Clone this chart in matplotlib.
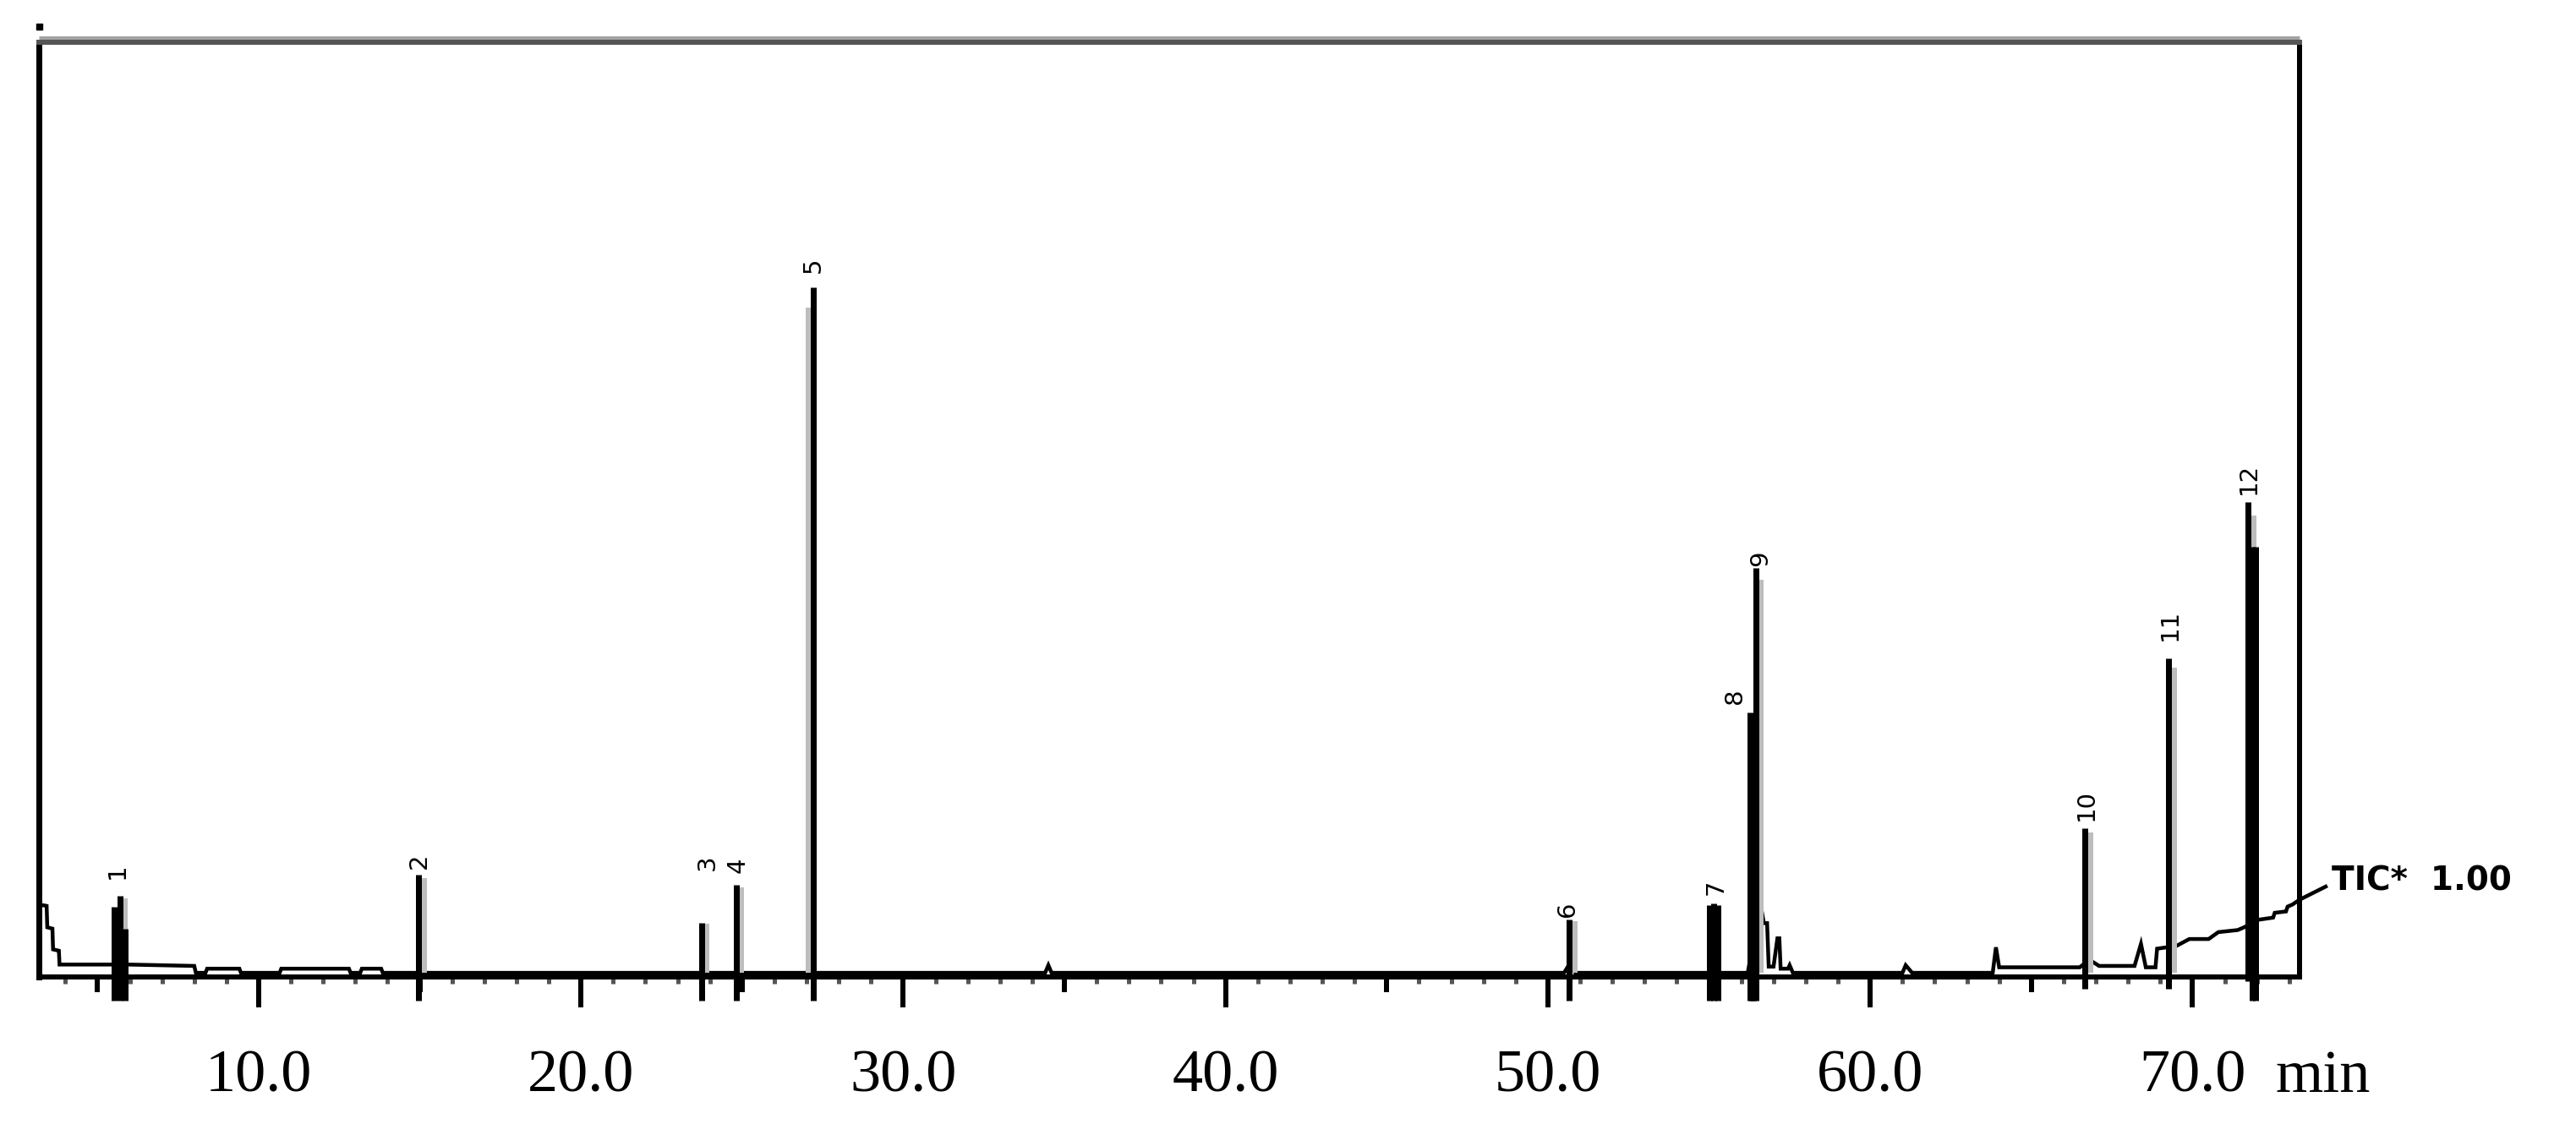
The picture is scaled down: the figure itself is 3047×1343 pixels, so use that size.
"""GC-MS total ion chromatogram (TIC) with numbered peaks."""

import matplotlib as mpl
import matplotlib.pyplot as plt
from matplotlib.ticker import FixedLocator, MultipleLocator

mpl.rcParams.update(
    {
        "font.family": "DejaVu Sans",
        "axes.linewidth": 4.3,
    }
)

# baseline trace: retention time (min) vs intensity (% of peak 5)
trace_rt = [3.18, 3.42, 3.44, 3.60, 3.62, 3.80, 3.82, 5.40, 5.95, 8.00, 8.05,
            8.35, 8.40, 9.40, 9.45, 10.65, 10.70, 12.80, 12.85, 13.15, 13.20,
            13.80, 13.85, 34.40, 34.50, 34.60, 50.50, 50.75, 50.85, 54.95,
            55.35, 56.20, 56.55, 56.62, 56.70, 56.80, 56.85, 57.00, 57.12,
            57.18, 57.22, 57.45, 57.50, 57.60, 61.00, 61.10, 61.30, 63.80,
            63.90, 64.00, 66.50, 66.80, 67.10, 68.20, 68.40, 68.55, 68.85,
            68.90, 69.20, 69.50, 69.90, 70.50, 70.80, 71.40, 71.60, 72.05,
            72.50, 72.55, 72.90, 72.95, 73.10, 73.32, 74.13]
trace_int = [10.5, 10.3, 7.2, 7.0, 4.0, 3.8, 1.8, 1.8, 1.8, 1.6, 0.6,
             0.6, 1.2, 1.2, 0.6, 0.6, 1.2, 1.2, 0.6, 0.6, 1.2,
             1.2, 0.6, 0.6, 1.7, 0.6, 0.6, 2.5, 0.6, 0.6,
             0.6, 0.6, 9.9, 9.9, 7.8, 7.8, 1.5, 1.5, 5.6,
             5.6, 1.2, 1.2, 1.7, 0.6, 0.6, 1.7, 0.6, 0.6,
             4.3, 1.4, 1.4, 2.5, 1.6, 1.6, 4.8, 1.4, 1.4,
             4.1, 4.3, 4.5, 5.5, 5.5, 6.5, 6.8, 7.2, 8.3,
             8.6, 9.3, 9.5, 10.2, 10.5, 11.2, 13.1]

# numbered peaks
peak_no = ["1", "2", "3", "4", "5", "6", "7", "8", "9", "10", "11", "12"]
peak_rt = [5.69, 14.97, 23.74, 24.81, 27.21, 50.66, 55.14, 56.27, 56.45,
           66.66, 69.26, 71.72]
peak_int = [11.8, 14.8, 7.9, 13.4, 100.0, 8.3, 10.6, 38.4, 59.3,
            21.6, 46.2, 68.9]
label_rt = [5.62, 14.97, 23.93, 24.85, 27.20, 50.60, 55.20, 55.80, 56.60,
            66.70, 69.30, 71.75]
label_int = [14.2, 15.7, 15.4, 15.1, 102.1, 8.7, 11.9, 39.6, 59.6,
             22.7, 48.7, 70.0]

# unnumbered co-eluting / shoulder peaks
shoulder_rt = [5.51, 5.86, 55.02, 55.28, 56.33, 56.38, 71.85, 71.95]
shoulder_int = [10.2, 7.0, 10.4, 10.4, 30.1, 30.1, 62.3, 62.3]

tick_pos = [10, 20, 30, 40, 50, 60, 70]
tick_lab = ["10.0", "20.0", "30.0", "40.0", "50.0", "60.0", "70.0"]

PX = 0.72  # points per pixel at dpi=100
Y_TOP = 135.5
PX_PER_UNIT = 1106 / Y_TOP
MIN_PER_PX = 1 / 38.12


def main():
    fig = plt.figure(figsize=(30.47, 13.43), dpi=100)
    ax = fig.add_axes([46 / 3047, 187 / 1343, 2674 / 3047, 1106 / 1343])

    ax.set_xlim(3.18, 73.32)
    ax.set_ylim(0, Y_TOP)

    for side in ("left", "right", "bottom"):
        ax.spines[side].set_color("black")
        ax.spines[side].set_linewidth(6 * PX)
    ax.spines["left"].set_linewidth(7 * PX)
    ax.spines["top"].set_color("#555555")
    ax.spines["top"].set_linewidth(6 * PX)
    ax.plot([0, 1], [1 + 5.5 / 1106] * 2, transform=ax.transAxes,
            color="#a3a3a3", lw=5 * PX, clip_on=False, solid_capstyle="butt")
    ax.plot([0], [1 + 19 / 1106], "s", transform=ax.transAxes, color="black",
            ms=7 * PX, clip_on=False)

    # trace
    ax.plot(trace_rt, trace_int, color="black", lw=4.5 * PX, clip_on=False,
            solid_joinstyle="miter")

    # soft grey edge beside each numbered peak (scan smear in the original)
    sides = [1, 1, 1, 1, -1, 1, 1, 1, 1, 1, 1, 1]
    for rt, h, s in zip(peak_rt, peak_int, sides):
        ax.vlines(rt + s * 6.5 * MIN_PER_PX, 0.6, h * 0.97, color="#bdbdbd",
                  lw=6 * PX)

    tails = [-28, -28, -28, -28, -28, -28, -28, -28, -28, -14, -14, -5]
    for rt, h, t in zip(peak_rt, peak_int, tails):
        ax.vlines(rt, t / PX_PER_UNIT, h, color="black", lw=7 * PX,
                  clip_on=False)
    ax.vlines(shoulder_rt, -28 / PX_PER_UNIT, shoulder_int, color="black",
              lw=7 * PX, clip_on=False)

    for lab, x, y in zip(peak_no, label_rt, label_int):
        ax.text(x, y, lab, rotation=90, ha="center", va="bottom",
                fontsize=21, color="black")

    # x axis
    ax.xaxis.set_major_locator(FixedLocator(tick_pos))
    ax.set_xticklabels(tick_lab, family="Liberation Serif", fontsize=52)
    ax.xaxis.set_minor_locator(MultipleLocator(1))
    ax.tick_params(axis="x", which="major", length=36 * PX, width=6 * PX,
                   pad=50 * PX, color="black")
    ax.tick_params(axis="x", which="minor", length=8 * PX, width=5 * PX,
                   color="#555555")
    ax.set_yticks([])
    xt = ax.get_xaxis_transform()
    ax.vlines([5, 15, 25, 35, 45, 55, 65], -18 / 1106, 0, transform=xt,
              color="black", lw=6 * PX, clip_on=False)
    ax.text(72.56, -136 / 1106, "min", transform=xt, ha="left",
            va="baseline", family="Liberation Serif", fontsize=52)

    # TIC scale label at the end of the trace
    ax.text(74.32, 12.6, "TIC*  1.00", ha="left", va="baseline", fontsize=28,
            fontweight="bold", clip_on=False)

    fig.savefig("out.png", dpi=100)


if __name__ == "__main__":
    main()
